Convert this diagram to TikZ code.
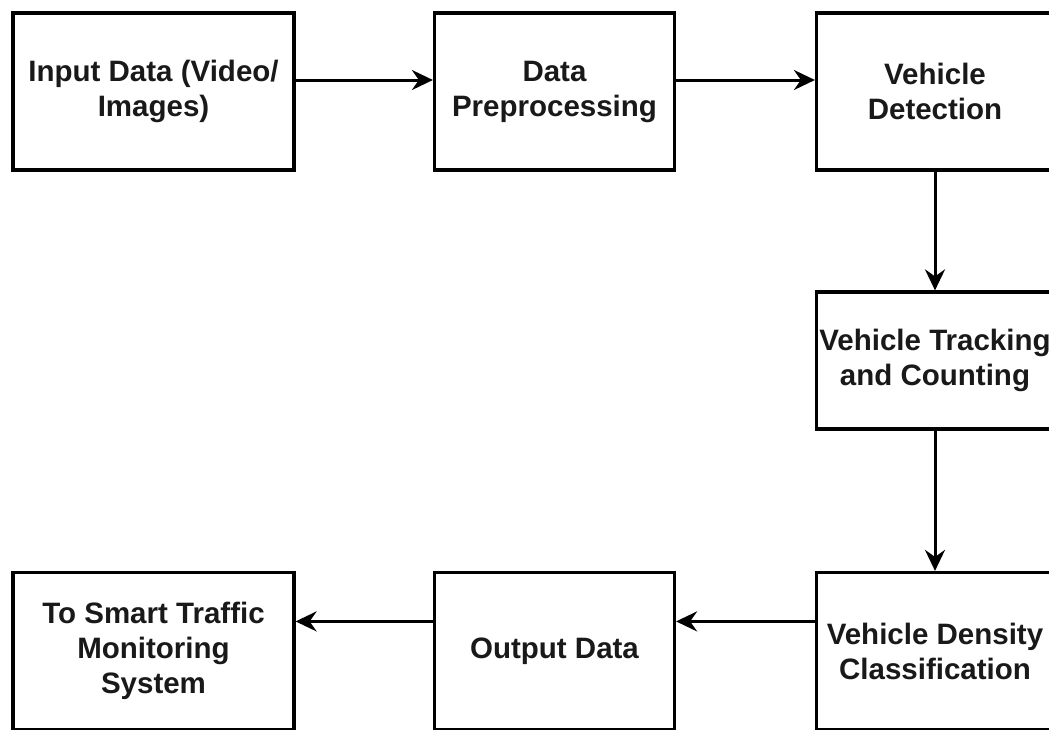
\documentclass[tikz,border=0pt]{standalone}
\usepackage{fontspec}
\setmainfont{Liberation Sans}
\usetikzlibrary{arrows.meta}
\begin{document}
\begin{tikzpicture}[x=1pt,y=-1pt,
  box/.style={draw=black, line width=3.2pt, fill=white, align=center, inner sep=0pt,
    font=\fontsize{29.5}{35}\selectfont\bfseries, text=black!90},
  arr/.style={line width=3pt, -{Stealth[length=21pt,width=20pt,inset=7pt]}}]
\useasboundingbox (0,0) rectangle (1049,729);
\clip (0,0) rectangle (1049,729);
\fill[white] (0,0) rectangle (1049,729);
\node[box, minimum width=281pt, minimum height=157pt] (b1) at (153.5,91.5) {Input Data (Video/\\Images)};
\node[box, minimum width=240pt, minimum height=157pt] (b2) at (554.5,91.5) {Data\\Preprocessing};
\node[box, minimum width=237pt, minimum height=157pt] (b3) at (935,91.5) {Vehicle\\Detection};
\node[box, minimum width=237pt, minimum height=137pt] (b4) at (935,360.5) {Vehicle Tracking\\and Counting};
\node[box, minimum width=237pt, minimum height=157pt] (b5) at (935,651) {Vehicle Density\\Classification};
\node[box, minimum width=240pt, minimum height=157pt] (b6) at (554.5,651) {Output Data};
\node[box, minimum width=281pt, minimum height=157pt] (b7) at (153.5,651) {To Smart Traffic\\Monitoring\\System};
\draw[arr] ([yshift=11.5pt]b1.east) -- ([yshift=11.5pt]b2.west);
\draw[arr] ([yshift=11.5pt]b2.east) -- ([yshift=11.5pt]b3.west);
\draw[arr] (b3.south) -- (b4.north);
\draw[arr] (b4.south) -- (b5.north);
\draw[arr] ([yshift=-50.5pt]b5.north west) -- ([yshift=-50.5pt]b6.north east);
\draw[arr] ([yshift=-50.5pt]b6.north west) -- ([yshift=-50.5pt]b7.north east);
\end{tikzpicture}
\end{document}
